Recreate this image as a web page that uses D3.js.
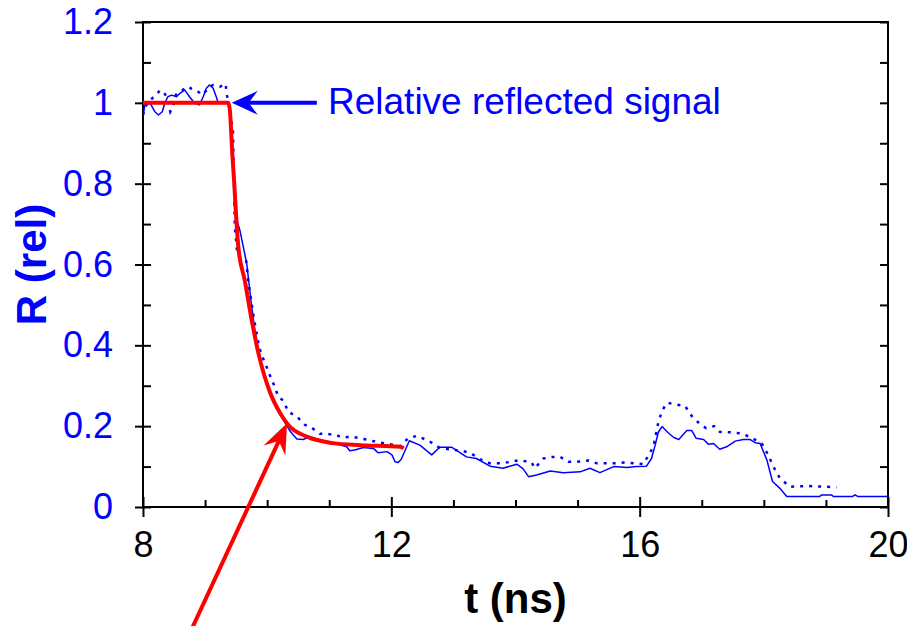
<!DOCTYPE html>
<html>
<head>
<meta charset="utf-8">
<script src="https://cdn.jsdelivr.net/npm/d3@7"></script>
<style>
  body { margin: 0; background: #fff; }
  svg { display: block; }
</style>
</head>
<body>
<div id="chart"></div>
<script>
// measured signal, solid trace
var solidT = [8.0, 8.03, 8.08, 8.13, 8.19, 8.25, 8.31, 8.35, 8.40, 8.46, 8.54, 8.59, 8.67, 8.75, 8.83, 8.91, 8.97, 9.02, 9.07, 9.13, 9.18, 9.21, 9.38, 9.44, 9.48, 9.56, 9.67, 9.75, 9.80, 9.86, 9.95, 10.05, 10.15, 10.21, 10.30, 10.36, 10.42, 10.48, 10.58, 10.69, 10.85, 11.07, 11.28, 11.33, 11.41, 11.55, 11.71, 11.79, 11.93, 12.01, 12.06, 12.11, 12.16, 12.29, 12.46, 12.65, 12.78, 12.97, 13.21, 13.37, 13.59, 13.80, 14.02, 14.12, 14.21, 14.34, 14.56, 14.77, 15.04, 15.20, 15.36, 15.58, 15.79, 15.95, 16.11, 16.19, 16.25, 16.30, 16.36, 16.45, 16.55, 16.63, 16.76, 16.84, 16.91, 17.03, 17.11, 17.19, 17.29, 17.40, 17.54, 17.67, 17.78, 17.86, 17.94, 18.05, 18.14, 18.26, 18.37, 18.90, 18.93, 19.09, 19.12, 19.43, 19.47, 19.51, 19.98, 20.0];
var solidR = [0.965, 0.995, 1.003, 0.995, 0.978, 0.970, 0.978, 0.999, 1.015, 1.019, 1.015, 1.023, 1.032, 1.015, 0.999, 0.995, 1.015, 1.036, 1.044, 1.036, 1.015, 1.0, 1.0, 0.90, 0.727, 0.685, 0.603, 0.496, 0.44, 0.385, 0.33, 0.282, 0.25, 0.235, 0.205, 0.19, 0.178, 0.168, 0.167, 0.174, 0.166, 0.158, 0.149, 0.139, 0.141, 0.147, 0.145, 0.134, 0.137, 0.129, 0.112, 0.110, 0.118, 0.164, 0.153, 0.129, 0.148, 0.148, 0.124, 0.120, 0.101, 0.096, 0.106, 0.095, 0.075, 0.079, 0.089, 0.085, 0.087, 0.096, 0.085, 0.100, 0.098, 0.100, 0.101, 0.120, 0.153, 0.185, 0.199, 0.185, 0.172, 0.167, 0.189, 0.189, 0.170, 0.167, 0.155, 0.157, 0.143, 0.149, 0.163, 0.167, 0.167, 0.159, 0.157, 0.116, 0.063, 0.046, 0.026, 0.026, 0.030, 0.030, 0.026, 0.026, 0.030, 0.026, 0.026, 0.030];

// measured signal, dotted trace
var dotT = [8.0, 8.04, 8.08, 8.14, 8.21, 8.27, 8.32, 8.38, 8.44, 8.48, 8.53, 8.62, 8.72, 8.78, 8.87, 8.95, 9.02, 9.08, 9.13, 9.24, 9.33, 9.35, 9.40, 9.45, 9.48, 9.50, 9.52, 9.60, 9.66, 9.70, 9.79, 9.86, 9.90, 9.98, 10.04, 10.11, 10.18, 10.26, 10.34, 10.49, 10.61, 10.71, 10.85, 10.96, 11.12, 11.20, 11.36, 11.63, 11.79, 12.0, 12.14, 12.27, 12.41, 12.60, 12.76, 12.92, 13.13, 13.27, 13.43, 13.59, 13.78, 14.07, 14.26, 14.31, 14.45, 14.60, 14.72, 14.85, 14.99, 15.17, 15.31, 15.58, 15.76, 16.06, 16.22, 16.30, 16.36, 16.44, 16.57, 16.73, 16.85, 16.96, 17.07, 17.20, 17.29, 17.46, 17.63, 17.80, 17.97, 18.07, 18.15, 18.26, 18.42, 18.69, 19.17];
var dotR = [0.97, 0.99, 1.0, 1.01, 1.02, 1.03, 1.03, 1.015, 0.978, 0.99, 1.02, 1.03, 1.040, 1.035, 1.03, 1.02, 1.03, 1.04, 1.044, 1.04, 1.047, 1.02, 0.98, 0.928, 0.69, 0.66, 0.623, 0.615, 0.611, 0.553, 0.463, 0.405, 0.380, 0.351, 0.327, 0.302, 0.273, 0.263, 0.236, 0.222, 0.203, 0.197, 0.181, 0.181, 0.178, 0.172, 0.174, 0.166, 0.160, 0.155, 0.150, 0.170, 0.176, 0.164, 0.148, 0.143, 0.139, 0.134, 0.118, 0.108, 0.108, 0.116, 0.110, 0.096, 0.120, 0.124, 0.124, 0.112, 0.112, 0.115, 0.108, 0.108, 0.110, 0.106, 0.149, 0.209, 0.238, 0.258, 0.254, 0.250, 0.223, 0.207, 0.195, 0.200, 0.186, 0.185, 0.182, 0.172, 0.156, 0.129, 0.101, 0.071, 0.050, 0.052, 0.049];

// fitted curve (red)
var fitT = [8.0, 9.375, 9.40, 9.44, 9.47, 9.50, 9.535, 9.64, 9.75, 9.86, 10.05, 10.21, 10.34, 10.64, 11.06, 11.5, 12.14, 12.2];
var fitR = [1.0, 1.0, 0.98, 0.87, 0.80, 0.72, 0.644, 0.56, 0.463, 0.38, 0.282, 0.232, 0.203, 0.174, 0.158, 0.153, 0.149, 0.145];

var xMajor = [8, 12, 16, 20];
var xMinor = [9, 10, 11, 13, 14, 15, 17, 18, 19];
var yMajor = [0, 0.2, 0.4, 0.6, 0.8, 1, 1.2];
var yAll = [0, 0.1, 0.2, 0.3, 0.4, 0.5, 0.6, 0.7, 0.8, 0.9, 1, 1.1, 1.2];

// annotations: [t, R] in data units
var noteText = "Relative reflected signal";
var blueArrow = [[10.80, 1.0], [9.43, 1.0]];
var notePos = [10.98, 0.972];
var redArrow = [[8.70, -0.33], [10.32, 0.207]];

var W = 907, H = 626;
var margin = { top: 22, right: 19, bottom: 119, left: 143 };
var width = W - margin.left - margin.right,
    height = H - margin.top - margin.bottom;

var svg = d3.select("#chart").append("svg")
    .attr("width", W)
    .attr("height", H)
    .style("font-family", "'Liberation Sans', Arial, sans-serif");

var defs = svg.append("defs");
defs.append("clipPath").attr("id", "plotclip")
    .append("rect").attr("x", 0).attr("y", 0).attr("width", width).attr("height", height);

var g = svg.append("g")
    .attr("transform", "translate(" + margin.left + "," + margin.top + ")");

var x = d3.scaleLinear().domain([8, 20]).range([0, width]);
var y = d3.scaleLinear().domain([0, 1.2]).range([height, 0]);

function styleAxis(sel) {
    sel.select(".domain").remove();
    sel.selectAll(".tick line").attr("stroke", "#000").attr("stroke-width", 2);
}

// left axis, labels + outer part of majors
g.append("g")
    .call(d3.axisLeft(y).tickValues(yMajor).tickSize(8).tickPadding(22)
        .tickFormat(function (d) { return d3.format("")(+d.toFixed(1)); }))
    .call(styleAxis)
    .selectAll("text")
    .attr("fill", "#0000ff")
    .style("font-size", "36px");

// left inner ticks
g.append("g")
    .call(d3.axisRight(y).tickValues(yAll).tickSize(8).tickFormat(""))
    .call(styleAxis);

// right inner ticks
g.append("g")
    .attr("transform", "translate(" + width + ",0)")
    .call(d3.axisLeft(y).tickValues(yAll).tickSize(8).tickFormat(""))
    .call(styleAxis);

// bottom axis with labels
g.append("g")
    .attr("transform", "translate(0," + height + ")")
    .call(d3.axisBottom(x).tickValues(xMajor).tickSize(10).tickPadding(14))
    .call(styleAxis)
    .selectAll("text")
    .attr("fill", "#000")
    .style("font-size", "36px");

g.append("g")
    .attr("transform", "translate(0," + height + ")")
    .call(d3.axisTop(x).tickValues(xMajor).tickSize(10).tickFormat(""))
    .call(styleAxis);

g.append("g")
    .attr("transform", "translate(0," + height + ")")
    .call(d3.axisTop(x).tickValues(xMinor).tickSize(7).tickFormat(""))
    .call(styleAxis);

// frame
g.append("rect")
    .attr("width", width)
    .attr("height", height)
    .attr("fill", "none")
    .attr("stroke", "#000")
    .attr("stroke-width", 2);

var plot = g.append("g").attr("clip-path", "url(#plotclip)");

var line = d3.line()
    .x(function (d) { return x(d[0]); })
    .y(function (d) { return y(d[1]); });

plot.append("path")
    .datum(dotT.map(function (t, i) { return [t, dotR[i]]; }))
    .attr("d", line)
    .attr("fill", "none")
    .attr("stroke", "#0000ff")
    .attr("stroke-width", 2.5)
    .attr("stroke-dasharray", "3,6");

plot.append("path")
    .datum(solidT.map(function (t, i) { return [t, solidR[i]]; }))
    .attr("d", line)
    .attr("fill", "none")
    .attr("stroke", "#0000ff")
    .attr("stroke-width", 1.5)
    .attr("stroke-linejoin", "round");

g.append("path")
    .datum(fitT.map(function (t, i) { return [t, fitR[i]]; }))
    .attr("d", line.curve(d3.curveMonotoneX))
    .attr("fill", "none")
    .attr("stroke", "#ff0000")
    .attr("stroke-width", 4)
    .attr("stroke-linejoin", "round");

// arrow heads
function arrow(pts, color, lw, headLen, headHalf) {
    var x0 = x(pts[0][0]), y0 = y(pts[0][1]),
        x1 = x(pts[1][0]), y1 = y(pts[1][1]);
    var dx = x1 - x0, dy = y1 - y0, L = Math.sqrt(dx * dx + dy * dy);
    var ux = dx / L, uy = dy / L;
    var bx = x1 - ux * headLen, by = y1 - uy * headLen;
    var nx = -uy, ny = ux;
    svg.append("line")
        .attr("x1", margin.left + x0).attr("y1", margin.top + y0)
        .attr("x2", margin.left + x1 - ux * headLen * 0.6).attr("y2", margin.top + y1 - uy * headLen * 0.6)
        .attr("stroke", color).attr("stroke-width", lw);
    var ix = x1 - ux * headLen * 0.65, iy = y1 - uy * headLen * 0.65;
    var p = [
        [x1, y1],
        [bx + nx * headHalf, by + ny * headHalf],
        [ix, iy],
        [bx - nx * headHalf, by - ny * headHalf]
    ].map(function (q) { return (q[0] + margin.left) + "," + (q[1] + margin.top); }).join(" ");
    svg.append("polygon").attr("points", p).attr("fill", color);
}

arrow(blueArrow, "#0000ff", 4, 26, 12);
arrow(redArrow, "#ff0000", 4, 30, 12);

g.append("text")
    .attr("x", x(notePos[0]))
    .attr("y", y(notePos[1]))
    .attr("fill", "#0000ff")
    .style("font-size", "37px")
    .text(noteText);

// axis titles
svg.append("text")
    .attr("x", margin.left + width / 2)
    .attr("y", 613)
    .attr("text-anchor", "middle")
    .style("font-size", "42px")
    .style("font-weight", "bold")
    .attr("fill", "#000")
    .text("t (ns)");

svg.append("text")
    .attr("transform", "translate(46," + (margin.top + height / 2) + ") rotate(-90)")
    .attr("text-anchor", "middle")
    .style("font-size", "42px")
    .style("font-weight", "bold")
    .attr("fill", "#0000ff")
    .text("R (rel)");
</script>
</body>
</html>
